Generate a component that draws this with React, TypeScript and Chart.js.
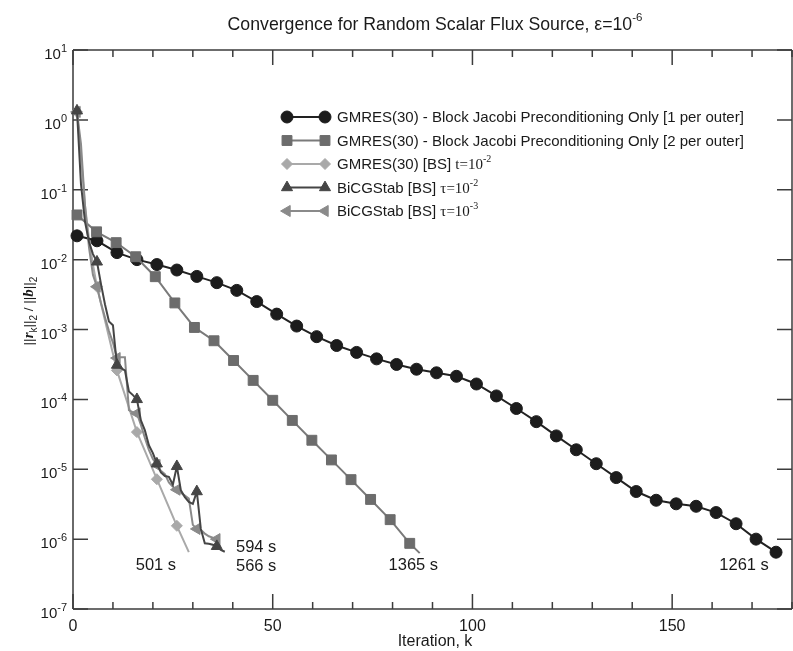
import React, { useEffect, useRef } from 'react';
import { Chart, registerables } from 'chart.js';

Chart.register(...registerables);

const SANS = '"Liberation Sans", Arial, Helvetica, sans-serif';
const SERIF = '"Liberation Serif", "Times New Roman", serif';

// ---------------- data ----------------
// GMRES(30) - Block Jacobi Preconditioning Only [1 per outer]
const gmres1Iter = [1, 6, 11, 16, 21, 26, 31, 36, 41, 46, 51, 56, 61, 66, 71, 76, 81, 86, 91, 96, 101, 106, 111, 116, 121, 126, 131, 136, 141, 146, 151, 156, 161, 166, 171, 176];
const gmres1Res = [0.0219, 0.0186, 0.0126, 0.01, 0.0085, 0.0071, 0.00575, 0.00468, 0.00363, 0.00251, 0.00166, 0.00112, 7.9e-4, 5.9e-4, 4.7e-4, 3.8e-4, 3.16e-4, 2.7e-4, 2.4e-4, 2.14e-4, 1.66e-4, 1.12e-4, 7.4e-5, 4.8e-5, 3.0e-5, 1.9e-5, 1.2e-5, 7.6e-6, 4.8e-6, 3.6e-6, 3.2e-6, 2.95e-6, 2.4e-6, 1.66e-6, 1.0e-6, 6.5e-7];

// GMRES(30) - Block Jacobi Preconditioning Only [2 per outer] (last point: line end, no marker)
const gmres2Iter = [1, 5.9, 10.8, 15.7, 20.6, 25.5, 30.4, 35.3, 40.2, 45.1, 50, 54.9, 59.8, 64.7, 69.6, 74.5, 79.4, 84.3, 86.8];
const gmres2Res = [0.0436, 0.025, 0.0175, 0.011, 0.0057, 0.0024, 0.00107, 6.9e-4, 3.6e-4, 1.87e-4, 9.7e-5, 5.0e-5, 2.6e-5, 1.36e-5, 7.1e-6, 3.7e-6, 1.9e-6, 8.7e-7, 6.3e-7];

// GMRES(30) [BS] t=1e-2
const bsGmresIter = [1, 2, 3, 4, 5, 6, 11, 16, 21, 26, 29];
const bsGmresRes = [1.3, 0.3, 0.06, 0.02, 0.0085, 0.0041, 2.6e-4, 3.4e-5, 7.2e-6, 1.55e-6, 6.5e-7];

// BiCGStab [BS] tau=1e-2
const bicg2Iter = [1, 2, 3, 4, 5, 6, 7, 8, 9, 10, 11, 12, 13, 14, 15, 16, 17, 18, 19, 20, 21, 22, 23, 24, 25, 26, 27, 28, 29, 30, 31, 32, 33, 34, 35, 36, 37, 38];
const bicg2Res = [1.35, 0.12, 0.035, 0.018, 0.012, 9.3e-3, 4.5e-3, 2.3e-3, 1.3e-3, 1.15e-3, 3.1e-4, 2.8e-4, 2.6e-4, 1.3e-4, 1.15e-4, 1.0e-4, 5.0e-5, 3.6e-5, 2.2e-5, 1.7e-5, 1.2e-5, 9.0e-6, 8.0e-6, 7.8e-6, 6.0e-6, 1.1e-5, 5.0e-6, 4.0e-6, 3.4e-6, 3.2e-6, 4.8e-6, 1.4e-6, 8.7e-7, 8.6e-7, 8.3e-7, 7.9e-7, 7.0e-7, 6.6e-7];

// BiCGStab [BS] tau=1e-3
const bicg3Iter = [1, 2, 3, 4, 5, 6, 7, 8, 9, 10, 11, 12, 13, 14, 15, 16, 17, 18, 19, 20, 21, 22, 23, 24, 25, 26, 27, 28, 29, 30, 31, 32, 33, 34, 35, 36, 37];
const bicg3Res = [1.3, 0.45, 0.06, 0.015, 6.0e-3, 4.1e-3, 2.4e-3, 1.5e-3, 9.5e-4, 6.5e-4, 3.9e-4, 4.0e-4, 4.0e-4, 7.0e-5, 6.5e-5, 6.3e-5, 4.3e-5, 2.8e-5, 1.9e-5, 1.4e-5, 1.15e-5, 9.5e-6, 8.5e-6, 6.5e-6, 5.6e-6, 5.1e-6, 4.6e-6, 4.2e-6, 3.8e-6, 1.6e-6, 1.4e-6, 1.35e-6, 1.2e-6, 1.1e-6, 1.05e-6, 1.0e-6, 7.5e-7];

// iterations that carry a marker (every 5th, starting at 1)
const markerIters = [1, 6, 11, 16, 21, 26, 31, 36, 41, 46, 51, 56, 61, 66, 71, 76, 81, 86, 91, 96, 101, 106, 111, 116, 121, 126, 131, 136, 141, 146, 151, 156, 161, 166, 171, 176];

const xMajorTicks = [0, 50, 100, 150];
const xMinorTicks = [0, 10, 20, 30, 40, 50, 60, 70, 80, 90, 100, 110, 120, 130, 140, 150, 160, 170, 180];
const yTickExponents = [-7, -6, -5, -4, -3, -2, -1, 0, 1];

const timeLabels = ['501 s', '594 s', '566 s', '1365 s', '1261 s'];
const timeLabelIter = [15.7, 40.8, 40.8, 79.0, 161.8];
const timeLabelRes = [3.6e-7, 6.6e-7, 3.5e-7, 3.6e-7, 3.6e-7];

// ---------------- styles ----------------
type Piece = { t: string; font: string; dy?: number };

const series = [
  { key: 'bicg2', iters: bicg2Iter, res: bicg2Res, color: '#454545', line: '#454545', style: 'triangle', r: 6.4, rot: 0, marks: 'every5' },
  { key: 'bicg3', iters: bicg3Iter, res: bicg3Res, color: '#8a8a8a', line: '#8a8a8a', style: 'triangle', r: 6.4, rot: 270, marks: 'every5' },
  { key: 'gmres2', iters: gmres2Iter, res: gmres2Res, color: '#6c6c6c', line: '#7a7a7a', style: 'rect', r: 7, rot: 0, marks: 'allButLast' },
  { key: 'gmres1', iters: gmres1Iter, res: gmres1Res, color: '#1c1c1c', line: '#222222', style: 'circle', r: 6, rot: 0, marks: 'every5' },
  { key: 'bsgmres', iters: bsGmresIter, res: bsGmresRes, color: '#a9a9a9', line: '#a9a9a9', style: 'rectRot', r: 5.5, rot: 0, marks: 'every5' },
];

const F = (size: number, fam = SANS, w = '') => `${w} ${size}px ${fam}`.trim();

const legendRows: { key: string; pieces: Piece[] }[] = [
  { key: 'gmres1', pieces: [{ t: 'GMRES(30) - Block Jacobi Preconditioning Only [1 per outer]', font: F(15) }] },
  { key: 'gmres2', pieces: [{ t: 'GMRES(30) - Block Jacobi Preconditioning Only [2 per outer]', font: F(15) }] },
  { key: 'bsgmres', pieces: [{ t: 'GMRES(30) [BS] ', font: F(15) }, { t: 't=10', font: F(15, SERIF) }, { t: '-2', font: F(10, SERIF), dy: -7 }] },
  { key: 'bicg2', pieces: [{ t: 'BiCGStab [BS] ', font: F(15) }, { t: '\u03c4=10', font: F(15, SERIF) }, { t: '-2', font: F(10, SERIF), dy: -7 }] },
  { key: 'bicg3', pieces: [{ t: 'BiCGStab [BS] ', font: F(15) }, { t: '\u03c4=10', font: F(15, SERIF) }, { t: '-3', font: F(10, SERIF), dy: -7 }] },
];

function richWidth(ctx: CanvasRenderingContext2D, pieces: Piece[]) {
  let w = 0;
  for (const p of pieces) {
    ctx.font = p.font;
    w += ctx.measureText(p.t).width;
  }
  return w;
}

function drawRich(ctx: CanvasRenderingContext2D, pieces: Piece[], x: number, y: number, align: 'left' | 'center' | 'right') {
  const w = richWidth(ctx, pieces);
  let cx = align === 'left' ? x : align === 'center' ? x - w / 2 : x - w;
  ctx.textAlign = 'left';
  ctx.textBaseline = 'alphabetic';
  for (const p of pieces) {
    ctx.font = p.font;
    ctx.fillText(p.t, cx, y + (p.dy || 0));
    cx += ctx.measureText(p.t).width;
  }
}

function drawMarker(ctx: CanvasRenderingContext2D, style: string, x: number, y: number, r: number, rot: number, color: string) {
  ctx.beginPath();
  let rad = (rot * Math.PI) / 180;
  if (style === 'circle') ctx.arc(x, y, r, 0, Math.PI * 2);
  else if (style === 'rect') {
    const s = Math.SQRT1_2 * r;
    ctx.rect(x - s, y - s, 2 * s, 2 * s);
  } else if (style === 'rectRot') {
    ctx.moveTo(x - r, y);
    ctx.lineTo(x, y - r);
    ctx.lineTo(x + r, y);
    ctx.lineTo(x, y + r);
    ctx.closePath();
  } else {
    ctx.moveTo(x + Math.sin(rad) * r, y - Math.cos(rad) * r);
    rad += (2 * Math.PI) / 3;
    ctx.lineTo(x + Math.sin(rad) * r, y - Math.cos(rad) * r);
    rad += (2 * Math.PI) / 3;
    ctx.lineTo(x + Math.sin(rad) * r, y - Math.cos(rad) * r);
    ctx.closePath();
  }
  ctx.fillStyle = color;
  ctx.fill();
  ctx.strokeStyle = color;
  ctx.lineWidth = 1;
  ctx.stroke();
}

const axesPlugin = {
  id: 'axesFrame',
  beforeDatasetsDraw(chart: any) {
    const { ctx, chartArea: a, scales } = chart;
    const xs = scales.x;
    const ys = scales.y;
    ctx.save();
    ctx.lineCap = 'butt';
    ctx.strokeStyle = '#3c3c3c';
    ctx.lineWidth = 1.5;
    ctx.beginPath();
    ctx.moveTo(a.left, a.top);
    ctx.lineTo(a.right, a.top);
    ctx.moveTo(a.left, a.bottom);
    ctx.lineTo(a.right, a.bottom);
    ctx.moveTo(a.right, a.top);
    ctx.lineTo(a.right, a.bottom);
    ctx.stroke();
    ctx.strokeStyle = '#6a6a6a';
    ctx.lineWidth = 2;
    ctx.beginPath();
    ctx.moveTo(a.left, a.top);
    ctx.lineTo(a.left, a.bottom);
    ctx.stroke();
    ctx.strokeStyle = '#3c3c3c';
    ctx.lineWidth = 1.5;
    ctx.beginPath();
    for (const v of xMinorTicks) {
      const px = xs.getPixelForValue(v);
      const len = xMajorTicks.includes(v) ? 15 : 7;
      ctx.moveTo(px, a.top);
      ctx.lineTo(px, a.top + len);
      ctx.moveTo(px, a.bottom);
      ctx.lineTo(px, a.bottom - len);
    }
    for (const e of yTickExponents) {
      const py = ys.getPixelForValue(Math.pow(10, e));
      ctx.moveTo(a.left, py);
      ctx.lineTo(a.left + 15, py);
      ctx.moveTo(a.right, py);
      ctx.lineTo(a.right - 15, py);
    }
    ctx.stroke();
    ctx.restore();
  },
  afterDraw(chart: any) {
    const { ctx, chartArea: a, scales } = chart;
    const xs = scales.x;
    const ys = scales.y;
    ctx.save();
    ctx.fillStyle = '#1a1a1a';
    for (const e of yTickExponents) {
      const py = ys.getPixelForValue(Math.pow(10, e));
      drawRich(ctx, [{ t: '10', font: F(15) }, { t: String(e), font: F(11), dy: -7 }], a.left - 6, py + 9, 'right');
    }
    ctx.font = F(16);
    ctx.textAlign = 'center';
    for (const v of xMajorTicks) {
      ctx.fillText(String(v), xs.getPixelForValue(v), 631);
    }
    drawRich(ctx, [{ t: 'Iteration, k', font: F(16) }], 435, 646, 'center');
    drawRich(ctx, [
      { t: 'Convergence for Random Scalar Flux Source, \u03b5=10', font: F(17.7) },
      { t: '-6', font: F(11.5), dy: -9 },
    ], 435, 30, 'center');
    ctx.save();
    ctx.translate(28, 311);
    ctx.rotate(-Math.PI / 2);
    drawRich(ctx, [
      { t: '||', font: F(13.5) },
      { t: 'r', font: F(15, SERIF, 'italic bold') },
      { t: 'k', font: F(10), dy: 4 },
      { t: '||', font: F(13.5) },
      { t: '2', font: F(10), dy: 4 },
      { t: ' / ||', font: F(13.5) },
      { t: 'b', font: F(15, SERIF, 'italic bold') },
      { t: '||', font: F(13.5) },
      { t: '2', font: F(10), dy: 4 },
    ], 0, 5, 'center');
    ctx.restore();
    ctx.fillStyle = '#1a1a1a';
    for (let i = 0; i < timeLabels.length; i++) {
      drawRich(ctx, [{ t: timeLabels[i], font: F(16.5) }], xs.getPixelForValue(timeLabelIter[i]), ys.getPixelForValue(timeLabelRes[i]), 'left');
    }
    const lx0 = 287, lx1 = 325, tx = 337, ry0 = 117, rgap = 23.5;
    legendRows.forEach((row, i) => {
      const s = series.find((q) => q.key === row.key)!;
      const yy = ry0 + i * rgap;
      ctx.strokeStyle = s.line;
      ctx.lineWidth = 2;
      ctx.beginPath();
      ctx.moveTo(lx0, yy);
      ctx.lineTo(lx1, yy);
      ctx.stroke();
      drawMarker(ctx, s.style, lx0, yy, s.r, s.rot, s.color);
      drawMarker(ctx, s.style, lx1, yy, s.r, s.rot, s.color);
      ctx.fillStyle = '#1a1a1a';
      drawRich(ctx, row.pieces, tx, yy + 5, 'left');
    });
    ctx.restore();
  },
};

export default function App() {
  const ref = useRef<HTMLCanvasElement | null>(null);
  useEffect(() => {
    if (!ref.current) return;
    const datasets = series.map((s) => {
      const flags = s.iters.map((it, idx) =>
        s.marks === 'allButLast' ? idx < s.iters.length - 1 : markerIters.includes(it)
      );
      return {
        label: s.key,
        data: s.iters.map((it, i) => ({ x: it, y: s.res[i] })),
        borderColor: s.line,
        borderWidth: 2,
        backgroundColor: s.color,
        pointBackgroundColor: s.color,
        pointBorderColor: s.color,
        pointBorderWidth: 1,
        pointStyle: s.style,
        pointRotation: s.rot,
        pointRadius: (c: any) => (flags[c.dataIndex] ? s.r : 0),
        pointHoverRadius: (c: any) => (flags[c.dataIndex] ? s.r : 0),
        tension: 0,
        fill: false,
        clip: false as any,
      };
    });
    const chart = new Chart(ref.current, {
      type: 'line',
      data: { datasets: datasets as any },
      options: {
        animation: false,
        responsive: false,
        events: [],
        layout: { padding: { left: 73, right: 2, top: 50, bottom: 42 } },
        scales: {
          x: { type: 'linear', min: 0, max: 180, display: false },
          y: { type: 'logarithmic', min: 1e-7, max: 10, display: false },
        },
        plugins: { legend: { display: false }, tooltip: { enabled: false }, title: { display: false } },
      },
      plugins: [axesPlugin],
    });
    return () => chart.destroy();
  }, []);
  return (
    <div style={{ position: 'fixed', left: 0, top: 0, width: 793, height: 651, overflow: 'hidden', background: '#fff' }}>
      <canvas ref={ref} width={800} height={651} style={{ display: 'block' }} />
    </div>
  );
}
